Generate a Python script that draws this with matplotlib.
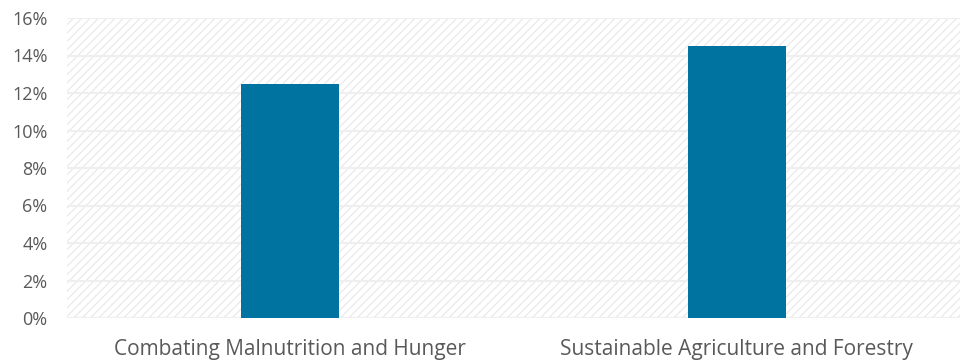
import matplotlib.pyplot as plt
from matplotlib.ticker import FuncFormatter
import matplotlib as mpl

categories = ['Combating Malnutrition and Hunger', 'Sustainable Agriculture and Forestry']
values = [0.125, 0.145]
yticks = [0, 0.02, 0.04, 0.06, 0.08, 0.10, 0.12, 0.14, 0.16]

plt.rcParams['font.family'] = ['Open Sans', 'DejaVu Sans']
mpl.rcParams['hatch.linewidth'] = 0.8
mpl.rcParams['hatch.color'] = '#E8E8E8'

fig = plt.figure(figsize=(9.61, 3.63), dpi=100)
ax = fig.add_axes([67 / 961, 45 / 363, (960 - 67) / 961, 300 / 363])

# hatched plot background
ax.axhspan(0, 0.16, facecolor='white', edgecolor='#E8E8E8', hatch='////', lw=0, zorder=0)

x = range(len(categories))
ax.bar(x, values, width=0.22, color='#0173A0', zorder=3)

ax.set_xlim(-0.5, len(categories) - 0.5)
ax.set_ylim(0, 0.16)
ax.set_yticks(yticks)
ax.yaxis.set_major_formatter(FuncFormatter(lambda v, p: f'{v * 100:.0f}%'))
ax.set_xticks(list(x))
ax.set_xticklabels(categories)
ax.grid(axis='y', color='#EFEFEF', lw=1.5, zorder=1)
for s in ax.spines.values():
    s.set_visible(False)
ax.axhline(0, color='#EFEFEF', lw=1.5, zorder=2)
ax.tick_params(length=0, labelcolor='#595959')
ax.tick_params(axis='y', labelsize=13, pad=14)
ax.tick_params(axis='x', labelsize=15, pad=15)

fig.savefig('out.png', dpi=100)
